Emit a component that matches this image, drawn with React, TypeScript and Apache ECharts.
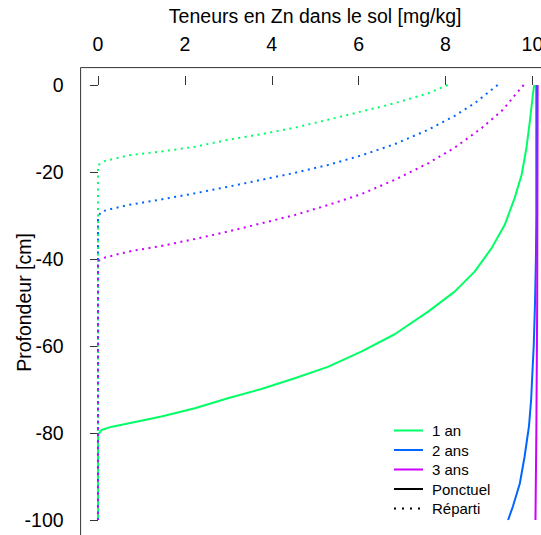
import React, { useEffect, useRef } from "react";
import * as echarts from "echarts";

// Axis ticks
const depthTicks = [0, -20, -40, -60, -80, -100];
const zincTicks = [0, 2, 4, 6, 8, 10];

// Legend / series names
const yearNames = ["1 an", "2 ans", "3 ans"];
const modeNames = ["Ponctuel", "Réparti"];
const yearColors = ["#00FF66", "#0066FF", "#CC00FF"];

// Ponctuel (solid lines): Zn content [mg/kg] by depth [cm]
const ponctuel1Depth = [0, -2.3, -8.4, -14.6, -20.7, -26.0, -32.2, -37.5, -42.9, -47.5, -52.1, -57.3, -61.3, -64.8, -67.4, -69.9, -72.0, -74.3, -76.2, -77.8, -78.6, -79.3, -80.5, -100];
const ponctuel1Zn = [10.04, 10.01, 9.94, 9.86, 9.75, 9.59, 9.36, 9.06, 8.67, 8.21, 7.6, 6.83, 6.06, 5.29, 4.53, 3.76, 2.99, 2.23, 1.46, 0.69, 0.3, 0.08, 0, 0];
const ponctuel2Depth = [0, -30, -40, -50, -60, -66, -72.4, -78.5, -85.4, -91.6, -96.9, -100];
const ponctuel2Zn = [10.09, 10.09, 10.08, 10.06, 10.03, 10.0, 9.97, 9.92, 9.82, 9.71, 9.55, 9.44];
const ponctuel3Depth = [0, -50, -80, -100];
const ponctuel3Zn = [10.12, 10.11, 10.09, 10.07];

// Réparti (dotted lines)
const reparti1Depth = [0, -1.9, -4.2, -6.1, -8.0, -9.8, -11.3, -12.6, -14.2, -15.3, -16.2, -17.0, -17.5, -18.4, -100];
const reparti1Zn = [8.05, 7.6, 6.83, 6.06, 5.29, 4.53, 3.76, 2.99, 2.23, 1.46, 0.69, 0.35, 0.15, 0, 0];
const reparti2Depth = [0, -4.2, -7.1, -10.3, -13.6, -16.2, -18.4, -20.2, -21.8, -23.4, -24.9, -26.3, -27.6, -28.5, -29.1, -30.3, -100];
const reparti2Zn = [9.2, 8.67, 8.21, 7.6, 6.83, 6.06, 5.29, 4.53, 3.76, 2.99, 2.23, 1.46, 0.69, 0.3, 0.08, 0, 0];
const reparti3Depth = [0, -2.3, -5.7, -10.0, -14.4, -18.0, -21.8, -25.1, -27.6, -29.9, -31.8, -33.7, -35.4, -37.0, -38.3, -39.7, -40.5, -100];
const reparti3Zn = [9.8, 9.6, 9.32, 8.82, 8.21, 7.6, 6.83, 6.06, 5.29, 4.53, 3.76, 2.99, 2.23, 1.46, 0.69, 0.15, 0, 0];

const ponctuelProfiles = [
  [ponctuel1Zn, ponctuel1Depth],
  [ponctuel2Zn, ponctuel2Depth],
  [ponctuel3Zn, ponctuel3Depth],
];
const repartiProfiles = [
  [reparti1Zn, reparti1Depth],
  [reparti2Zn, reparti2Depth],
  [reparti3Zn, reparti3Depth],
];

const FONT = "'Liberation Sans', Arial, Helvetica, sans-serif";
const DOT = [2, 4.5];

function pairs(zn: number[], depth: number[]) {
  return zn.map((v, i) => [v, depth[i]]);
}

export default function App() {
  const ref = useRef<HTMLDivElement>(null);

  useEffect(() => {
    if (!ref.current) return;
    const chart = echarts.init(ref.current, undefined, { renderer: "svg" });

    const series: any[] = [];
    ponctuelProfiles.forEach(([zn, depth], i) => {
      series.push({
        name: yearNames[i],
        type: "line",
        data: pairs(zn, depth),
        symbol: "none",
        color: yearColors[i],
        lineStyle: { color: yearColors[i], width: 2, type: "solid" },
      });
    });
    repartiProfiles.forEach(([zn, depth], i) => {
      series.push({
        name: yearNames[i],
        type: "line",
        data: pairs(zn, depth),
        symbol: "none",
        color: yearColors[i],
        lineStyle: { color: yearColors[i], width: 2, type: DOT },
      });
    });
    series.push({
      name: modeNames[0],
      type: "line",
      data: [],
      symbol: "none",
      color: "#000",
      lineStyle: { color: "#000", width: 2, type: "solid" },
    });
    series.push({
      name: modeNames[1],
      type: "line",
      data: [],
      symbol: "none",
      color: "#000",
      lineStyle: { color: "#000", width: 2, type: [2, 6] },
    });

    chart.setOption({
      animation: false,
      backgroundColor: "#fff",
      textStyle: { fontFamily: FONT, color: "#000" },
      grid: {
        left: 80.6,
        top: 67.6,
        width: 469.2,
        height: 469.8,
        show: true,
        borderColor: "#333",
        borderWidth: 1,
        backgroundColor: "transparent",
        outerBoundsMode: "none",
      },
      legend: {
        orient: "vertical",
        left: 388,
        top: 418,
        itemWidth: 29,
        itemHeight: 14,
        itemGap: 4.5,
        itemStyle: { opacity: 0 },
        data: [...yearNames, ...modeNames],
        textStyle: { fontFamily: FONT, fontSize: 15, color: "#000", padding: [0, 0, 0, 4] },
      },
      xAxis: {
        type: "value",
        position: "top",
        min: -0.4,
        max: 10.4,
        name: "Teneurs en Zn dans le sol [mg/kg]",
        nameLocation: "middle",
        nameGap: 42,
        nameMoveOverlap: false,
        nameTextStyle: { fontFamily: FONT, fontSize: 19.5, color: "#000" },
        axisLine: { show: false },
        splitLine: { show: false },
        axisTick: { show: true, length: 9, lineStyle: { color: "#333" }, customValues: zincTicks },
        axisLabel: { fontFamily: FONT, fontSize: 19.5, color: "#000", margin: 14, customValues: zincTicks },
      },
      yAxis: {
        type: "value",
        position: "left",
        min: -104,
        max: 4,
        name: "Profondeur [cm]",
        nameLocation: "middle",
        nameGap: 47,
        nameRotate: 90,
        nameMoveOverlap: false,
        nameTextStyle: { fontFamily: FONT, fontSize: 19.5, color: "#000" },
        axisLine: { show: false },
        splitLine: { show: false },
        axisTick: { show: true, length: 8, lineStyle: { color: "#333" }, customValues: depthTicks },
        axisLabel: { fontFamily: FONT, fontSize: 19.5, color: "#000", margin: 17, customValues: depthTicks },
      },
      series,
    });

    return () => chart.dispose();
  }, []);

  return (
    <div
      style={{
        position: "fixed",
        left: 0,
        top: 0,
        width: 541,
        height: 535,
        overflow: "hidden",
        background: "#fff",
      }}
    >
      <div ref={ref} style={{ width: 570, height: 570 }} />
    </div>
  );
}
